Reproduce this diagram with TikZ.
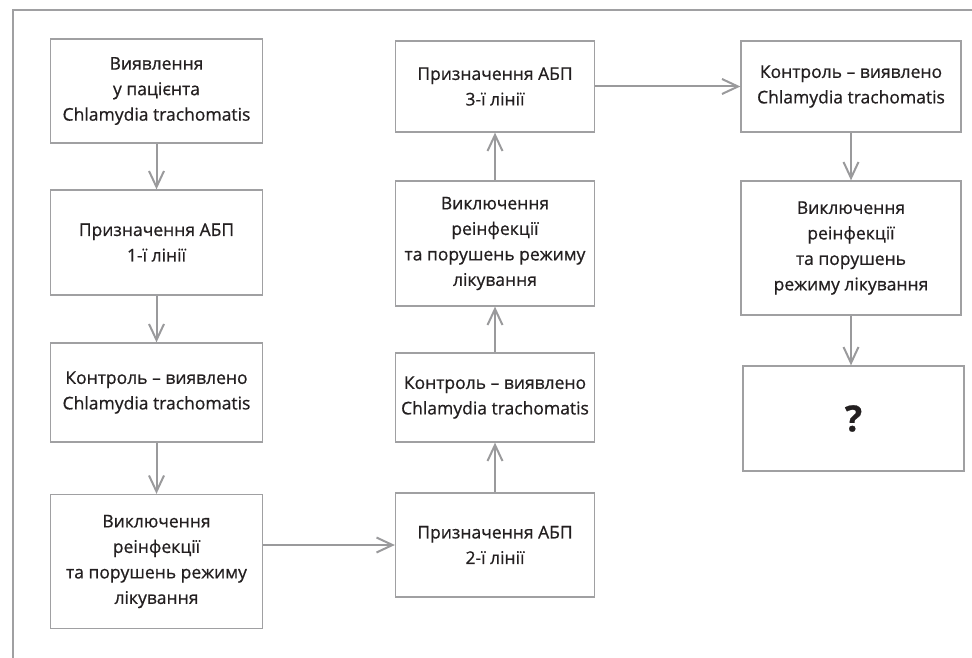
\documentclass[tikz,border=0pt]{standalone}
\usepackage{fontspec}
\setmainfont{Open Sans}[FakeBold=0.7]
\usetikzlibrary{arrows.meta}
\definecolor{boxgray}{HTML}{A0A0A2}
\definecolor{arrgray}{HTML}{9A9A9C}
\definecolor{txt}{HTML}{231F20}
\begin{document}
\begin{tikzpicture}[x=1pt,y=-1pt,
  flowbox/.style={draw=boxgray,line width=1.3pt,fill=white,text=txt,align=center,
    inner sep=0pt,font=\fontsize{17.5}{25.5}\selectfont},
  flowarrow/.style={draw=arrgray,line width=2pt,
    -{Straight Barb[length=16pt,width=15pt,line width=2pt]}}]
\useasboundingbox (0,0) rectangle (972,658);
% frame (top and left edges)
\draw[boxgray,line width=1.5pt] (972,10) -- (13,10) -- (13,658);
% column 1
\node[flowbox,minimum width=212pt,minimum height=104pt] (b1) at (156.5,91)
  {Виявлення\\у пацієнта\\Chlamydia trachomatis};
\node[flowbox,minimum width=212pt,minimum height=105pt] (b2) at (156.5,242.5)
  {Призначення АБП\\1-ї лінії};
\node[flowbox,minimum width=212pt,minimum height=99pt] (b3) at (156.5,392.5)
  {Контроль – виявлено\\Chlamydia trachomatis};
\node[flowbox,minimum width=212pt,minimum height=134pt] (b4) at (156.5,561.5)
  {Виключення\\реінфекції\\та порушень режиму\\лікування};
% column 2
\node[flowbox,minimum width=199pt,minimum height=104pt] (d4) at (495,545)
  {Призначення АБП\\2-ї лінії};
\node[flowbox,minimum width=199pt,minimum height=89pt] (d3) at (495,397.5)
  {Контроль – виявлено\\Chlamydia trachomatis};
\node[flowbox,minimum width=199pt,minimum height=125pt] (d2) at (495,243.5)
  {Виключення\\реінфекції\\та порушень режиму\\лікування};
\node[flowbox,minimum width=199pt,minimum height=91pt] (d1) at (495,86.5)
  {Призначення АБП\\3-ї лінії};
% column 3
\node[flowbox,minimum width=220pt,minimum height=91pt] (e1) at (851,86.5)
  {Контроль – виявлено\\Chlamydia trachomatis};
\node[flowbox,minimum width=220pt,minimum height=134pt] (e2) at (851,248)
  {Виключення\\реінфекції\\та порушень\\режиму лікування};
\node[flowbox,minimum width=221pt,minimum height=105pt,font=\fontsize{36}{36}\selectfont\bfseries] (e3) at (853.5,418.5)
  {?};
% arrows
\draw[flowarrow] (b1) -- (b2);
\draw[flowarrow] (b2) -- (b3);
\draw[flowarrow] (b3) -- (b4);
\draw[flowarrow] (b4.east |- d4.west) -- (d4.west);
\draw[flowarrow] (d4) -- (d3);
\draw[flowarrow] (d3) -- (d2);
\draw[flowarrow] (d2) -- (d1);
\draw[flowarrow] (d1) -- (e1);
\draw[flowarrow] (e1) -- (e2);
\draw[flowarrow] (e2.south) -- (e2.south |- e3.north);
\end{tikzpicture}
\end{document}
